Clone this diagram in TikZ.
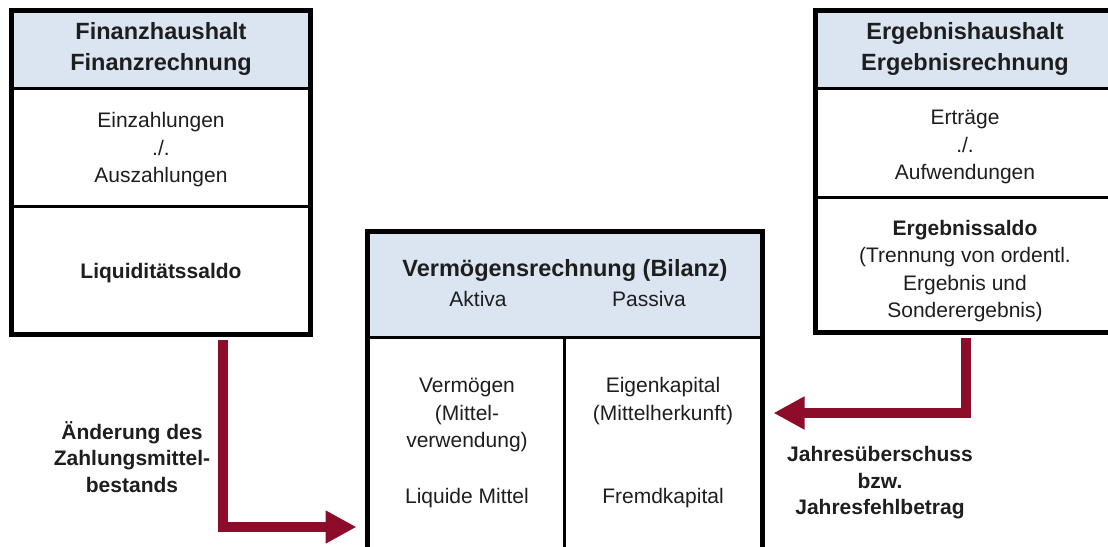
\documentclass[tikz,border=0pt]{standalone}
\usepackage{fontspec}
\setmainfont{Liberation Sans}
\usetikzlibrary{arrows.meta}
\definecolor{hdr}{RGB}{219,229,241}
\definecolor{arrred}{RGB}{140,12,42}
\definecolor{txt}{RGB}{30,30,30}
\tikzset{
  frame/.style={draw=black, line width=5pt, rectangle, inner sep=0pt},
  sep/.style={draw=black, line width=3pt},
  hdrtxt/.style={align=center, text=txt, font=\fontsize{23.5}{31}\selectfont\bfseries},
  body/.style={align=center, text=txt, font=\fontsize{21}{27.5}\selectfont},
  lbl/.style={align=center, text=txt, font=\fontsize{21}{26.5}\selectfont\bfseries},
  arr/.style={draw=arrred, line width=10pt, line join=miter,
    -{Triangle[length=31pt,width=31pt]}, shorten <=2.5pt, shorten >=8.5pt}
}
\begin{document}
\begin{tikzpicture}[x=1pt,y=-1pt]
\useasboundingbox (0,0) rectangle (1108,546);
\clip (0,0) rectangle (1108,546);
\fill[white] (0,0) rectangle (1108,546);
% header fills
\fill[hdr] (11.5,10.5) rectangle (310.5,88);
\fill[hdr] (815.5,10.5) rectangle (1114.5,88);
\fill[hdr] (367.5,231.5) rectangle (762.5,337);
% frames
\node[frame, minimum width=299pt, minimum height=324pt] (fin) at (161,172.5) {};
\node[frame, minimum width=299pt, minimum height=322pt] (erg) at (965,171.5) {};
\node[frame, minimum width=395pt, minimum height=388.5pt] (bil) at (565,425.75) {};
% separators
\draw[sep] (fin.west |- 0,88) -- (fin.east |- 0,88);
\draw[sep] (fin.west |- 0,206) -- (fin.east |- 0,206);
\draw[sep] (erg.west |- 0,88) -- (erg.east |- 0,88);
\draw[sep] (erg.west |- 0,197) -- (erg.east |- 0,197);
\draw[sep] (bil.west |- 0,337) -- (bil.east |- 0,337);
\draw[sep] (564,337) -- (bil.south -| 564,0);
% left box texts
\node[hdrtxt] (finh) at (161,49) {Finanzhaushalt\\Finanzrechnung};
\node[body] (finb) at (161,150) {Einzahlungen\\./.\\Auszahlungen};
\node[body, font=\fontsize{21}{27.5}\selectfont\bfseries] (fins) at (161,273) {Liquiditätssaldo};
% right box texts
\node[hdrtxt] (ergh) at (965,49) {Ergebnishaushalt\\Ergebnisrechnung};
\node[body] (ergb) at (965,147) {Erträge\\./.\\Aufwendungen};
\node[body, font=\fontsize{21}{27.3}\selectfont] (ergs) at (965,271) {\textbf{Ergebnissaldo}\\(Trennung von ordentl.\\Ergebnis und\\Sonderergebnis)};
% center box texts
\node[hdrtxt] (bilh) at (565,270) {Vermögensrechnung (Bilanz)};
\node[body] (akt) at (478,299) {Aktiva};
\node[body] (pas) at (649,299) {Passiva};
\node[body] (verm) at (467,415) {Vermögen\\(Mittel-\\verwendung)};
\node[body] (liq) at (467,498) {Liquide Mittel};
\node[body] (eig) at (663,401) {Eigenkapital\\(Mittelherkunft)};
\node[body] (fremd) at (663,498) {Fremdkapital};
% arrows
\draw[arr] (fin.south -| 223,0) |- (bil.west |- 0,527);
\draw[arr] (erg.south -| 966,0) |- (bil.east |- 0,413);
% labels
\node[lbl] (l1) at (132,457) {Änderung des\\Zahlungsmittel-\\bestands};
\node[lbl] (l2) at (880,483) {Jahresüberschuss\\bzw.\\Jahresfehlbetrag};
\end{tikzpicture}
\end{document}
